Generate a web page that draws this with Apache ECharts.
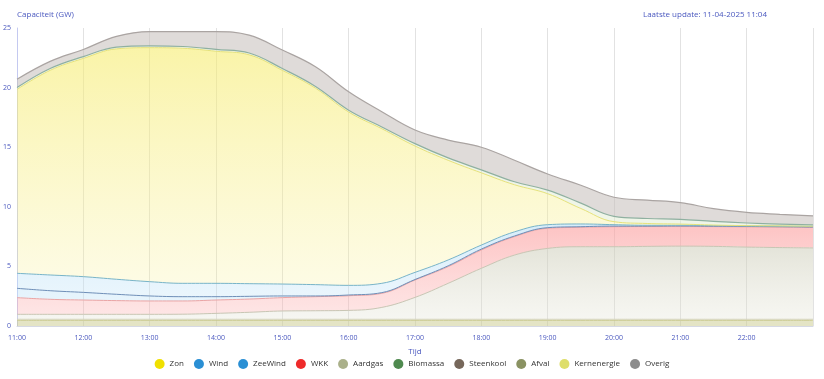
<!DOCTYPE html>
<html>
<head>
<meta charset="utf-8">
<script src="https://cdn.jsdelivr.net/npm/echarts@6/dist/echarts.min.js"></script>
<style>
html,body{margin:0;padding:0;background:#fff;}
#chart{width:824px;height:379px;}
</style>
</head>
<body>
<div id="chart"></div>
<script>
const times = ["11:00","11:30","12:00","12:30","13:00","13:30","14:00","14:30","15:00","15:30","16:00","16:30","17:00","17:30","18:00","18:30","19:00","19:30","20:00","20:30","21:00","21:30","22:00","22:30","23:00"];
const yTicks = [0,5,10,15,20,25];

const kernenergie = [0.48,0.48,0.48,0.48,0.48,0.48,0.48,0.48,0.48,0.48,0.48,0.48,0.48,0.48,0.48,0.48,0.48,0.48,0.48,0.48,0.48,0.48,0.48,0.48,0.48];
const afval = [0.08,0.08,0.08,0.08,0.08,0.08,0.08,0.08,0.08,0.08,0.08,0.08,0.08,0.08,0.08,0.08,0.08,0.08,0.08,0.08,0.08,0.08,0.08,0.08,0.08];
const steenkool = [0,0,0,0,0,0,0,0,0,0,0,0,0,0,0,0,0,0,0,0,0,0,0,0,0];
const aardgas = [0.42,0.42,0.42,0.42,0.42,0.43,0.50,0.59,0.70,0.72,0.75,1.00,1.84,3.02,4.28,5.39,5.95,6.09,6.09,6.12,6.14,6.12,6.06,6.02,5.99];
const wkk = [1.40,1.26,1.20,1.15,1.12,1.11,1.12,1.11,1.12,1.18,1.23,1.18,1.46,1.40,1.54,1.55,1.69,1.63,1.68,1.67,1.66,1.66,1.70,1.72,1.72];
const zeewind = [0.78,0.72,0.64,0.53,0.42,0.36,0.28,0.23,0.14,0.06,0.06,0.06,0.04,0.07,0.07,0.05,0.05,0.05,0.05,0.03,0.03,0.03,0.03,0.03,0.03];
const wind = [1.26,1.32,1.32,1.26,1.20,1.12,1.12,1.06,1.00,0.95,0.81,0.78,0.60,0.49,0.34,0.35,0.25,0.23,0.12,0.07,0.06,0.05,0.05,0.05,0.05];
const zon = [15.43,17.17,18.31,19.33,19.63,19.72,19.47,19.20,17.93,16.48,14.54,12.97,10.60,8.36,6.06,3.95,2.60,1.30,0.25,0.15,0.10,0.05,0.02,0.02,0.02];
const biomassa = [0.15,0.15,0.15,0.15,0.15,0.15,0.15,0.15,0.15,0.15,0.15,0.15,0.20,0.20,0.25,0.25,0.30,0.45,0.45,0.42,0.40,0.30,0.22,0.15,0.12];
const overig = [0.70,0.60,0.60,0.90,1.20,1.25,1.50,1.50,1.55,1.65,1.55,1.28,1.14,1.50,1.90,1.80,1.35,1.50,1.60,1.54,1.40,1.07,0.89,0.82,0.75];

const legendOrder = ["Zon","Wind","ZeeWind","WKK","Aardgas","Biomassa","Steenkool","Afval","Kernenergie","Overig"];

const blue = '#4a58bf';
const font = '"Open Sans", "DejaVu Sans", sans-serif';

function grad(top, bottom){
  return {type:'linear',x:0,y:0,x2:0,y2:1,colorStops:[{offset:0,color:top},{offset:1,color:bottom}]};
}
function mk(name, data, legendColor, lineColor, fill, lw){
  return {
    name: name, type:'line', stack:'total', data: data, smooth: 0.4,
    showSymbol:false, symbol:'circle',
    itemStyle:{color: legendColor},
    lineStyle:{color: lineColor, width: lw===undefined?1:lw},
    areaStyle:{color: fill, opacity:1},
    emphasis:{disabled:true}
  };
}

const series = [
  mk('Kernenergie', kernenergie, '#dede6a', '#c9c98c', 'rgba(205,205,150,0.55)', 1),
  mk('Afval', afval, '#8a9262', '#d4d4b0', 'rgba(225,225,200,0.4)', 0.8),
  mk('Steenkool', steenkool, '#76675a', '#d8d6c8', 'rgba(0,0,0,0)', 0.5),
  mk('Aardgas', aardgas, '#aab08a', '#c8c6b4', grad('rgba(205,205,185,0.55)','rgba(225,225,210,0.3)'), 1),
  mk('WKK', wkk, '#ee2a2a', '#eaa4a4', grad('rgba(252,160,160,0.62)','rgba(252,180,180,0.35)'), 1),
  mk('ZeeWind', zeewind, '#2a8fd4', '#6f8fb8', grad('rgba(175,218,245,0.55)','rgba(195,228,248,0.4)'), 1),
  mk('Wind', wind, '#2a8fd4', '#78b4c8', grad('rgba(175,218,245,0.5)','rgba(195,228,248,0.35)'), 1),
  mk('Zon', zon, '#f0e000', '#e6e27a', grad('rgba(246,236,110,0.6)','rgba(248,240,150,0.25)'), 1),
  mk('Biomassa', biomassa, '#4f8a4f', '#8fb0a0', 'rgba(220,232,205,0.45)', 1.2),
  mk('Overig', overig, '#8c8c8c', '#aaa4a2', 'rgba(196,190,186,0.55)', 1.2)
];

const chart = echarts.init(document.getElementById('chart'), null, {renderer:'canvas'});
chart.setOption({
  animation:false,
  backgroundColor:'#ffffff',
  textStyle:{fontFamily:font},
  title:[
    {text:'Capaciteit (GW)', left:12, top:6, textStyle:{color:blue, fontSize:8, fontWeight:'normal', fontFamily:font}},
    {text:'Laatste update: 11-04-2025 11:04', right:52, top:6, textStyle:{color:blue, fontSize:8, fontWeight:'normal', fontFamily:font}}
  ],
  grid:{left:17, right:11, top:28, bottom:53, containLabel:false},
  legend:{
    data: legendOrder, bottom:5, left:'center', icon:'circle',
    itemWidth:10, itemHeight:10, itemGap:10,
    textStyle:{color:'#333', fontSize:8, fontFamily:font}
  },
  xAxis:{
    type:'category', data: times, boundaryGap:false,
    name:'Tijd', nameLocation:'middle', nameGap:22,
    nameTextStyle:{color:blue, fontSize:8, fontFamily:font},
    axisLine:{show:true, lineStyle:{color:'#d6d9e4'}},
    axisTick:{show:false},
    axisLabel:{color:blue, fontSize:7, fontFamily:font, margin:8,
      interval:function(i,v){ return v.slice(3)==='00' && v!=='23:00'; }},
    splitLine:{show:true, interval:function(i,v){ return v.slice(3)==='00'; }, lineStyle:{color:'#e2e2e2', width:1}}
  },
  yAxis:{
    type:'value', min:yTicks[0], max:yTicks[yTicks.length-1], interval:5,
    axisLine:{show:true, lineStyle:{color:'#c4c9f0'}},
    axisTick:{show:false},
    axisLabel:{color:blue, fontSize:7, fontFamily:font, margin:6},
    splitLine:{show:false}
  },
  series: series
});
</script>
</body>
</html>
